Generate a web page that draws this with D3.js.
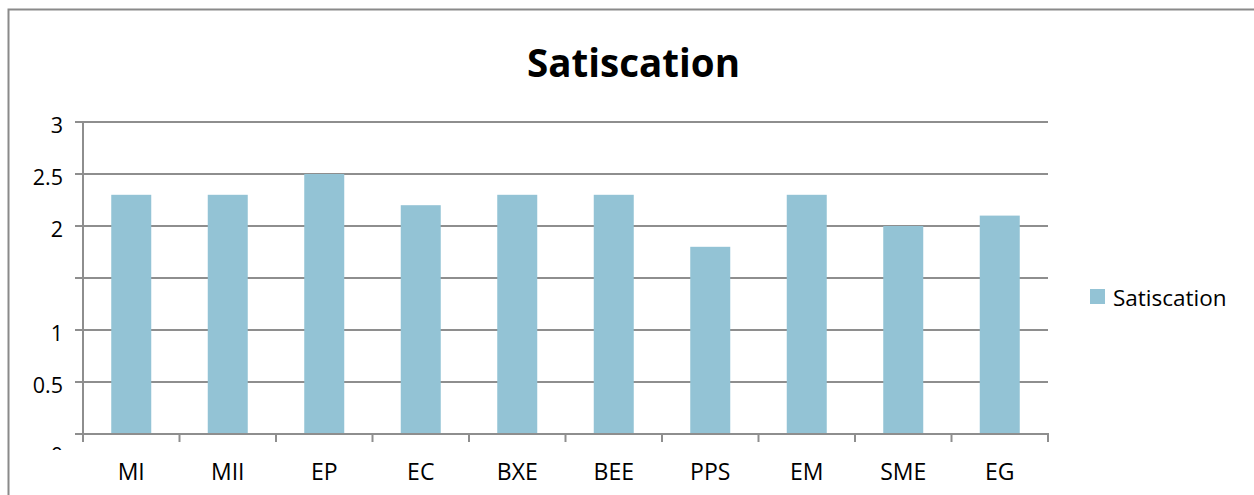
<!DOCTYPE html>
<html>
<head>
<meta charset="utf-8">
<script src="https://cdn.jsdelivr.net/npm/d3@7"></script>
<style>
  html, body { margin: 0; padding: 0; background: #fff; }
  svg { display: block; }
  text { font-family: "Open Sans", "Noto Sans", sans-serif; fill: #000; }
</style>
</head>
<body>
<script>
const title = "Satiscation";
const seriesName = "Satiscation";
const categories = ["MI", "MII", "EP", "EC", "BXE", "BEE", "PPS", "EM", "SME", "EG"];
const values = [2.3, 2.3, 2.5, 2.2, 2.3, 2.3, 1.8, 2.3, 2.0, 2.1];
const yTicks = [0, 0.5, 1, 1.5, 2, 2.5, 3];
const yTickLabels = ["0", "0.5", "1", "", "2", "2.5", "3"];

const W = 1254, H = 495;
const plot = { left: 83, right: 1048, top: 122, bottom: 434 };
const barColor = "#93C3D5";
const gridColor = "#8E8E8E";

const svg = d3.select("body").append("svg").attr("width", W).attr("height", H);

// outer chart border (right/bottom edges fall outside the view)
svg.append("rect")
  .attr("x", 8.5).attr("y", 9.5)
  .attr("width", W + 20).attr("height", H + 20)
  .attr("fill", "none").attr("stroke", "#8A8A8A").attr("stroke-width", 2);

// title
svg.append("text")
  .attr("x", 633.5).attr("y", 77)
  .attr("text-anchor", "middle")
  .attr("font-weight", "bold")
  .attr("font-size", 39)
  .attr("textLength", 213).attr("lengthAdjust", "spacingAndGlyphs")
  .text(title);

const x = d3.scaleBand().domain(categories).range([plot.left, plot.right]).paddingInner(0).paddingOuter(0);
const y = d3.scaleLinear().domain([0, 3]).range([plot.bottom, plot.top]);

// gridlines
svg.append("g").selectAll("line").data(yTicks).join("line")
  .attr("x1", plot.left - 8).attr("x2", plot.right)
  .attr("y1", d => y(d)).attr("y2", d => y(d))
  .attr("stroke", gridColor).attr("stroke-width", 2);

// bars
const barW = 40;
svg.append("g").selectAll("rect").data(categories).join("rect")
  .attr("x", d => x(d) + x.bandwidth() / 2 - barW / 2)
  .attr("width", barW)
  .attr("y", (d, i) => y(values[i]))
  .attr("height", (d, i) => y(0) - y(values[i]))
  .attr("fill", barColor);

// y axis line
svg.append("line")
  .attr("x1", plot.left).attr("x2", plot.left)
  .attr("y1", plot.top).attr("y2", plot.bottom)
  .attr("stroke", gridColor).attr("stroke-width", 2);

// x axis line
svg.append("line")
  .attr("x1", plot.left - 8).attr("x2", plot.right + 1)
  .attr("y1", plot.bottom).attr("y2", plot.bottom)
  .attr("stroke", gridColor).attr("stroke-width", 2);

// x tick marks at category boundaries
const bounds = categories.map(c => x(c)).concat([plot.right]);
svg.append("g").selectAll("line").data(bounds).join("line")
  .attr("x1", d => d).attr("x2", d => d)
  .attr("y1", plot.bottom).attr("y2", plot.bottom + 8)
  .attr("stroke", gridColor).attr("stroke-width", 2);

// y tick labels
const clip = svg.append("defs").append("clipPath").attr("id", "yclip");
clip.append("rect").attr("x", 0).attr("y", 0).attr("width", 80).attr("height", 450);
svg.append("g").attr("clip-path", "url(#yclip)").selectAll("text").data(yTicks).join("text")
  .attr("x", 63)
  .attr("y", (d, i) => d === 0 ? y(d) + 28.5 : y(d) + 10.8)
  .attr("text-anchor", "end")
  .attr("font-size", 21.5)
  .text((d, i) => yTickLabels[i]);

// x tick labels
svg.append("g").selectAll("text").data(categories).join("text")
  .attr("x", d => x(d) + x.bandwidth() / 2)
  .attr("y", 480)
  .attr("text-anchor", "middle")
  .attr("font-size", 23)
  .text(d => d);

// legend
svg.append("rect").attr("x", 1090).attr("y", 289).attr("width", 15).attr("height", 15).attr("fill", barColor);
svg.append("text").attr("x", 1113).attr("y", 306).attr("font-size", 22.5).text(seriesName);
</script>
</body>
</html>
